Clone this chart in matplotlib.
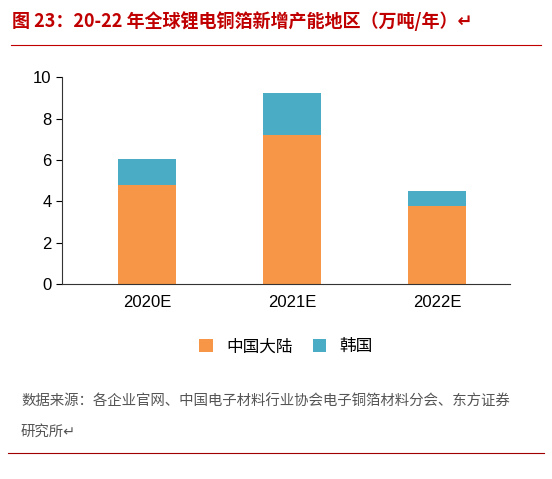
import matplotlib
matplotlib.use("Agg")
import matplotlib.pyplot as plt

plt.rcParams['font.family'] = ['Noto Sans CJK SC', 'DejaVu Sans']

categories = ["2020E", "2021E", "2022E"]
china = [4.8, 7.2, 3.75]
korea = [1.25, 2.05, 0.75]
yticks = [0, 2, 4, 6, 8, 10]

fig = plt.figure(figsize=(5.52, 4.79), dpi=100)
ax = fig.add_axes([0.112, 0.407, 0.812, 0.432])
x = list(range(len(categories)))
ax.bar(x, china, width=0.4, color="#F79646", label="中国大陆")
ax.bar(x, korea, width=0.4, bottom=china, color="#4BACC6", label="韩国")
ax.set_xlim(-0.586, 2.503)
ax.set_ylim(0, 10)
ax.set_yticks(yticks)
ax.set_yticklabels([str(v) for v in yticks], fontsize=12, family=['Liberation Sans'])
ax.set_xticks(x)
ax.set_xticklabels(categories, fontsize=12, family=['Liberation Sans'])
ax.tick_params(axis='x', length=0, pad=8)
ax.tick_params(axis='y', length=4, direction='out')
for s in ['top', 'right']:
    ax.spines[s].set_visible(False)
ax.spines['left'].set_color('#333333')
ax.spines['bottom'].set_color('#333333')

ax.legend(loc='upper center', bbox_to_anchor=(0.5, -0.19), ncol=2, frameon=False,
          fontsize=12, handlelength=0.8, handleheight=0.8, columnspacing=1.2)

fig.text(0.022, 0.955, "图 23：20-22 年全球锂电铜箔新增产能地区（万吨/年）↵",
         color="#C00000", fontsize=13, va='center', weight='bold')
fig.add_artist(plt.Line2D([0.02, 0.98], [0.906, 0.906], color="#C00000", lw=0.8))
fig.text(0.038, 0.161, "数据来源：各企业官网、中国电子材料行业协会电子铜箔材料分会、东方证券",
         fontsize=10.4, color="#555555", va='center')
fig.text(0.038, 0.098, "研究所↵", fontsize=10.4, color="#555555", va='center')
fig.add_artist(plt.Line2D([0.015, 0.985], [0.054, 0.054], color="#A00000", lw=0.8))
fig.savefig("out.png", dpi=100)
